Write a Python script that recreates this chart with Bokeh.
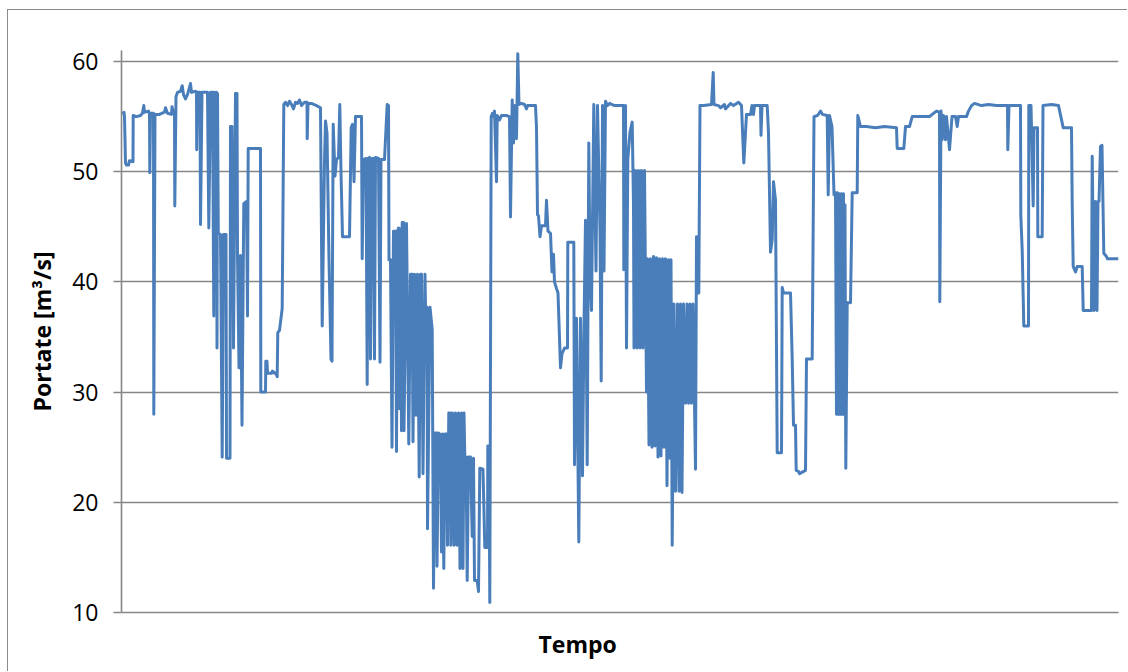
from bokeh.plotting import figure
from bokeh.models import Range1d, FixedTicker, Title
from bokeh.embed import file_html
from bokeh.resources import INLINE

# (tempo, portata) pairs, in arbitrary time units
seg1 = [(1, 55.2), (2.5, 55.4), (3, 55.0), (4, 50.8), (5, 50.6), (7, 50.6), (8, 51.0), (11.5, 50.9), (11.7, 55.1),
        (15, 55.0), (19, 55.1), (21, 55.3), (22.3, 56.0), (23, 55.4), (27, 55.5), (28, 55.2), (28.3, 49.9),
        (29, 55.3), (32, 55.3), (32.3, 28.0), (33.5, 55.2), (38, 55.2), (43, 55.4), (44, 55.8), (46, 55.3),
        (50, 55.2), (50.5, 55.9), (52, 55.3), (53, 55.2), (53.3, 46.9), (54.5, 56.8), (56, 57.2), (59, 57.3),
        (60.7, 57.8), (62, 57.0), (64, 56.6), (66, 57.0), (69, 58.0), (70, 57.2), (74, 57.3), (75, 57.2),
        (75.2, 52.0), (76, 57.2), (78.5, 57.2), (79, 45.2), (80.5, 57.2), (86, 57.2), (87.3, 44.9), (89, 57.2),
        (91, 57.2), (92.3, 36.9), (93, 57.2), (94, 41.0), (95, 57.2), (95.5, 34.0), (96, 57.1), (96.8, 44.4),
        (99, 44.3), (100.7, 24.1), (102, 44.3), (104.5, 44.3), (105, 24.0), (108.5, 24.0), (109, 54.1),
        (110.5, 54.1), (112, 34.0), (114, 57.1), (115.5, 57.1), (116, 42.4), (117.5, 32.2), (119, 42.4),
        (120.5, 27.0), (122.3, 47.1), (125, 47.3), (126, 36.9), (126.7, 52.1), (139, 52.1), (139.3, 30.0),
        (144, 30.0), (144.3, 32.8), (145.5, 32.8), (146, 31.7), (150, 31.7), (151, 31.9), (155, 31.6), (155.7, 31.4)]

seg2 = [(156.3, 35.4), (158, 35.6), (160.7, 37.6), (162.3, 56.1), (164, 56.3), (166, 56.0), (168, 56.4), (170, 56.1),
        (172, 55.7), (174, 56.3), (176, 56.2), (178, 56.5), (180, 56.0), (183, 56.3), (185.5, 56.3), (185.7, 53.0),
        (186.5, 56.2), (190, 56.2), (195, 56.0), (199, 55.8), (200.7, 36.0), (203, 51.0), (204, 54.6), (205.5, 53.5),
        (207.5, 42.0), (209.5, 33.0), (210.5, 32.8), (211.7, 54.3), (213.5, 49.6), (215, 51.1), (217, 51.3),
        (218.3, 56.1), (219.5, 50.0), (221, 44.1), (228, 44.1), (229.7, 54.0), (231, 54.3), (232.5, 49.1),
        (234, 55.0), (240, 55.0), (240.7, 42.1), (242, 51.1), (244.5, 51.2), (245.7, 30.7), (246.5, 51.2),
        (248, 51.3), (249, 33.0), (250.5, 51.2), (252, 51.2), (253, 33.0), (254, 51.3), (257, 51.2), (258.5, 32.7),
        (259.5, 51.1), (263, 51.1), (265.7, 56.1), (267, 56.0), (267.5, 42.0), (269, 42.0), (270.5, 25.0),
        (272, 44.6), (274, 44.6), (275, 24.6), (276, 44.6), (277, 44.9), (278, 28.5), (279, 44.8), (280, 26.5),
        (280.7, 45.4), (282, 45.4), (282.5, 26.5), (285, 45.3), (287.3, 25.3), (289, 40.7), (290.5, 40.7),
        (291.5, 25.5), (293, 40.7), (294.5, 27.9), (296, 40.7), (297.7, 22.3), (299, 40.7), (300, 40.7),
        (301.5, 22.6), (303.5, 40.7), (304, 37.7), (305.5, 37.7), (306, 17.6), (308.5, 37.7), (310.7, 35.7),
        (312, 12.2)]

seg3 = [(313.5, 26.3), (315, 26.3), (315.5, 14.2), (317, 26.3), (319, 26.1), (320, 15.5), (321, 26.2), (322.3, 14.0),
        (323.5, 26.2), (325, 26.2), (326, 16.1), (327.3, 28.1), (329, 28.1), (329.3, 16.1), (331, 28.1),
        (332.5, 16.1), (334, 28.1), (335.5, 16.1), (337, 28.1), (338.5, 14.0), (340, 28.1), (341.5, 14.0),
        (342.5, 28.1), (343.3, 24.1), (344.5, 24.1), (345.7, 12.9), (347, 24.1), (349, 24.1), (350.7, 16.9),
        (352, 24.0), (353, 12.9), (355.7, 12.9), (357, 11.9), (358.3, 23.1), (361.5, 23.0), (363.3, 15.9),
        (366, 15.9), (366.3, 25.1), (367.5, 25.1), (368.3, 10.9), (369.7, 55.0), (371, 55.3), (372, 55.0),
        (373, 55.5), (375, 49.1), (375.7, 55.1), (378, 54.7), (380, 55.1), (385, 55.1), (388, 55.0), (389, 45.9),
        (390.7, 56.5), (392, 52.6), (393.5, 56.0), (395, 53.0), (396.3, 60.7), (397.5, 56.1), (400, 56.2),
        (403, 56.1), (405, 55.7), (406, 56.0), (414, 56.0), (415, 54.0), (416, 46.1), (417, 46.0), (418.5, 44.1),
        (420, 45.1), (424, 45.1), (425, 47.4), (426.5, 44.6), (429, 44.4), (430.5, 40.9), (432, 42.5),
        (433, 40.0), (435, 39.4), (436.5, 39.0), (439, 32.2), (440.5, 33.5), (443, 34.0), (446, 34.0),
        (446.3, 43.6), (452.3, 43.6), (453, 23.4), (455, 36.7), (457.3, 16.4), (459, 36.7), (461, 22.4),
        (462.5, 36.0), (464, 45.6), (465.7, 23.4), (467.3, 52.6)]

seg4 = [(468.5, 41.0), (470, 37.4), (472.3, 56.1), (474.5, 41.0), (476, 56.0), (478.5, 44.6), (479.7, 31.0),
        (481, 56.0), (482.5, 41.0), (484, 56.4), (486, 56.0), (488, 56.2), (493, 56.0), (502, 56.0), (502.3, 41.1),
        (504, 56.0), (505, 34.0), (506.3, 51.1), (508.5, 53.6), (510.7, 54.5), (512, 47.0), (512.5, 34.0),
        (514, 50.1), (515.5, 34.0), (517, 50.1), (518.5, 34.0), (520, 50.1), (521.5, 34.0), (523, 50.1),
        (525, 30.0), (526, 42.1), (527.5, 25.2), (529, 42.1), (530.5, 25.0), (532, 42.3), (533.5, 25.1),
        (535, 42.2), (536.5, 24.1), (538, 42.1), (539.5, 24.2), (541, 42.1), (542.5, 25.0), (544, 42.1),
        (545.5, 21.5), (547, 42.0), (548.5, 24.0), (549.5, 42.0), (550.7, 16.1), (552.5, 38.0), (554, 21.0),
        (556, 38.0), (557.5, 21.0), (559, 38.0), (560.5, 20.9), (562, 38.0), (564, 29.0), (565.5, 38.0),
        (567, 29.0), (568.5, 38.0), (570, 29.0), (571.5, 38.0), (574, 23.0), (575, 44.1), (577.3, 39.0),
        (578.5, 56.0), (582, 56.0), (590, 56.1), (591.7, 59.0), (592.5, 56.1), (597, 56.0), (599, 55.8),
        (603, 56.1), (604, 55.7), (609, 56.2), (612, 56.0), (617, 56.3), (620, 56.0), (622.3, 50.8),
        (625, 55.2), (629, 55.2)]

seg5 = [(630.5, 56.0), (632, 55.2), (633, 56.0), (639, 56.0), (639.5, 53.3), (640.5, 56.0), (645.7, 56.0),
        (647, 53.5), (649, 42.7), (650.7, 43.8), (652, 49.1), (654, 47.4), (655.7, 24.5), (660, 24.5),
        (660.7, 39.5), (662, 39.0), (669, 39.0), (670.7, 33.0), (672, 27.0), (674, 27.0), (674.7, 22.9),
        (677, 22.8), (678, 22.6), (684, 22.9), (685, 33.0), (690.7, 33.0), (692.5, 55.0), (696, 55.1),
        (699, 55.5), (701, 55.2), (705.7, 55.1), (706.7, 47.9), (708, 55.1), (710.5, 54.1), (712.5, 47.9),
        (714, 48.1), (715, 28.0), (716, 48.1), (717, 28.0), (718, 48.0), (719, 28.0), (720, 48.0), (721, 28.0),
        (722, 48.0), (723, 28.0), (723.5, 47.0), (724.3, 23.1), (725.7, 38.1), (729, 38.1), (730.7, 48.1),
        (735.7, 48.1), (736.3, 55.1), (739, 54.1), (745, 54.1), (754, 54.0), (763, 54.1), (775, 54.0),
        (775.7, 52.1), (782.3, 52.1), (784, 54.1), (788, 54.1), (790.7, 55.0)]

seg6 = [(800, 55.0), (808, 55.0), (812, 55.3), (815, 55.5), (818, 55.4), (818.3, 38.2), (819.5, 55.5),
        (820.7, 52.9), (822, 55.1), (824, 52.9), (825, 55.0), (828, 52.0), (830.5, 55.0), (834, 55.0),
        (835.7, 54.1), (837, 55.0), (845, 55.0), (847, 55.5), (850, 56.0), (853, 56.2), (860, 56.0),
        (867, 56.1), (875, 56.0), (886, 56.0), (886.3, 52.0), (887.5, 56.0), (899, 56.0), (899.3, 46.1),
        (900.7, 42.9), (902.3, 36.0), (907, 36.0), (907.3, 56.0), (909.5, 56.0), (911.7, 46.9), (912.5, 54.0),
        (916, 54.0), (916.3, 44.1), (920.7, 44.1), (921.5, 56.0), (930, 56.1), (937, 56.0), (941.7, 54.0),
        (950, 54.0), (950.7, 47.1), (951.7, 41.4), (954, 40.9), (955.7, 41.4), (960.7, 41.4), (961.7, 37.4),
        (970, 37.4), (970.7, 51.4), (972.5, 37.4), (974, 47.3), (975.5, 37.4), (976.5, 47.3), (977.5, 47.3),
        (979, 52.3), (980.5, 52.4), (982.3, 42.6), (985, 42.3), (986, 42.1), (997, 42.1)]

y_ticks = [10, 20, 30, 40, 50, 60]
y_title = "Portate [m³/s]"
x_title = "Tempo"

pairs = seg1 + seg2 + seg3 + seg4 + seg5 + seg6
tempo = [a for a, b in pairs]
portata = [b for a, b in pairs]

GRAY = "#868686"
FONT = "Open Sans"

p = figure(width=1120, height=662, output_backend="svg", toolbar_location=None,
           x_range=Range1d(0, 997), y_range=Range1d(10, 61),
           min_border_left=113, min_border_right=10, min_border_top=40, min_border_bottom=60)
p.outline_line_color = None
p.background_fill_color = "white"
p.border_fill_color = "white"
p.styles = {"margin-left": "7px", "margin-top": "9px",
            "border-left": "1px solid #8a8a8a", "border-top": "1px solid #8a8a8a"}

p.line(tempo, portata, line_color="#4A7EBB", line_width=3, line_join="round")

yax = p.yaxis[0]
yax.ticker = FixedTicker(ticks=y_ticks)
yax.axis_line_color = GRAY
yax.axis_line_width = 1.6
yax.major_tick_line_color = GRAY
yax.major_tick_line_width = 1.6
yax.major_tick_out = 8
yax.major_tick_in = 0
yax.minor_tick_line_color = None
yax.major_label_text_font = FONT
yax.major_label_text_font_size = "23px"
yax.major_label_text_color = "black"
yax.major_label_standoff = 15
yax.axis_label = y_title
yax.axis_label_text_font = FONT
yax.axis_label_text_font_style = "bold"
yax.axis_label_text_font_size = "23px"
yax.axis_label_text_color = "black"
yax.axis_label_standoff = 11

xax = p.xaxis[0]
xax.ticker = FixedTicker(ticks=[])
xax.axis_line_color = GRAY
xax.axis_line_width = 1.6
xax.major_tick_line_color = None
xax.minor_tick_line_color = None
xax.major_tick_out = 0
xax.major_tick_in = 0
xax.major_label_text_font_size = "0px"
xax.major_label_standoff = 0

p.ygrid.ticker = FixedTicker(ticks=y_ticks)
p.ygrid.grid_line_color = GRAY
p.ygrid.grid_line_width = 1.6
p.xgrid.grid_line_color = None

p.add_layout(Title(text=x_title, align="left", offset=417, standoff=26,
                   text_font=FONT, text_font_style="bold", text_font_size="23px",
                   text_color="black"), "below")

open("out.html", "w").write(file_html(p, INLINE))
